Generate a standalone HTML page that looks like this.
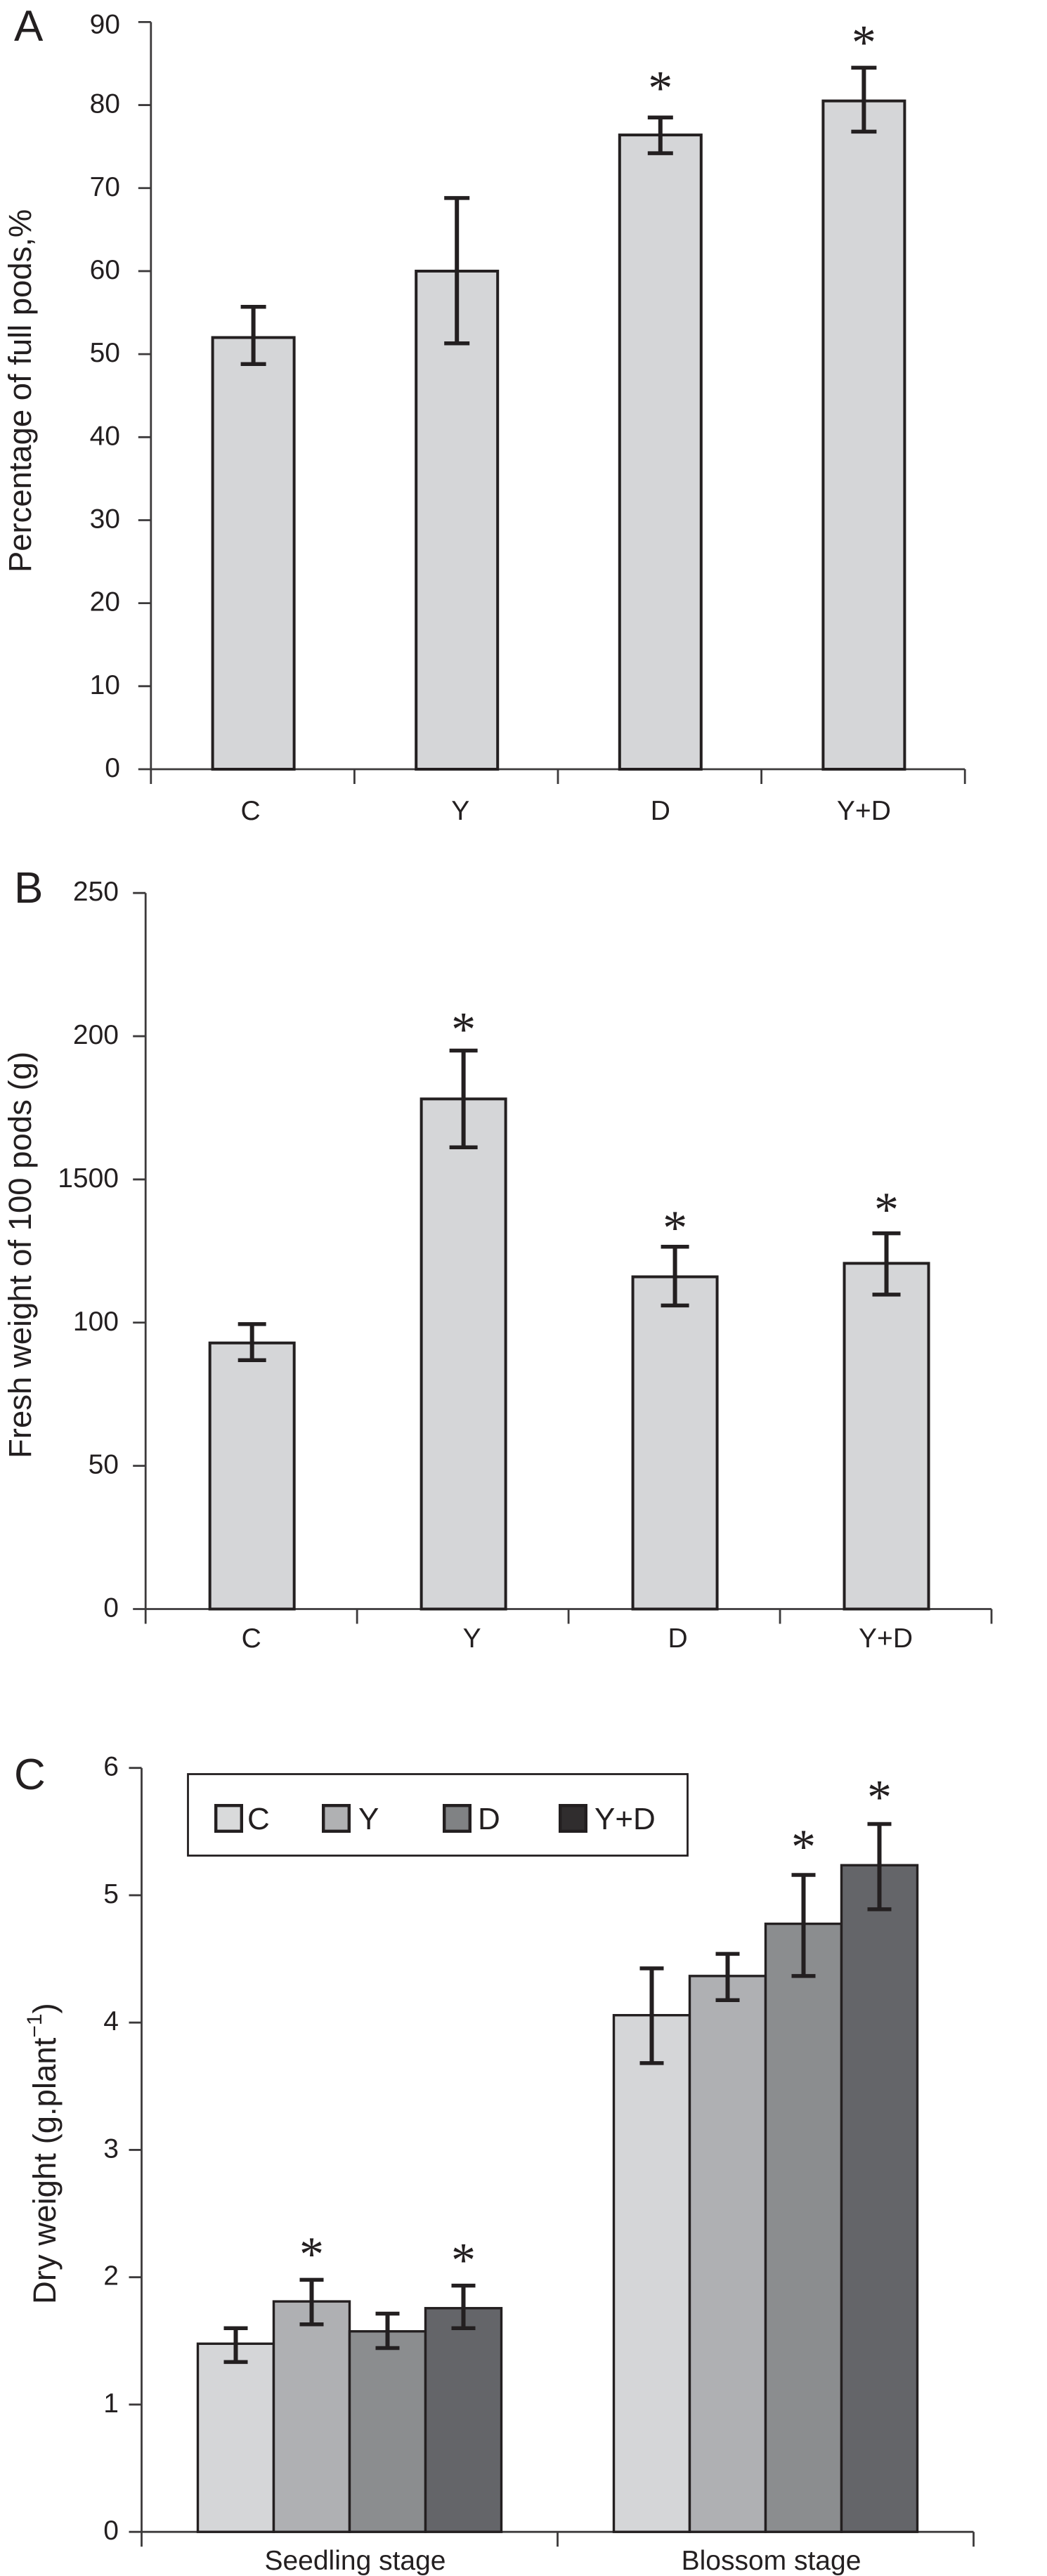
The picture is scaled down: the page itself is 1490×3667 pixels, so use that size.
<!DOCTYPE html>
<html lang="en">
<head>
<meta charset="utf-8">
<title>Pod and dry weight bar charts</title>
<style>
html,body{margin:0;padding:0;background:#fff;}
svg{display:block;}
text{font-family:"Liberation Sans",sans-serif;fill:#231f20;}
.star{font-family:"Liberation Serif",serif;}
</style>
</head>
<body>
<svg id="fig" xmlns="http://www.w3.org/2000/svg" width="1490" height="3667" viewBox="0 0 1490 3667">
  <rect x="0" y="0" width="1490" height="3667" fill="#ffffff"/>

  <text x="20" y="58" font-size="62">A</text>
  <text x="20" y="1285" font-size="62">B</text>
  <text x="20" y="2547" font-size="62">C</text>

  <text transform="translate(44,815) rotate(-90)" font-size="45.4">Percentage of full pods,%</text>
  <text transform="translate(44,2076) rotate(-90)" font-size="45.5">Fresh weight of 100 pods (g)</text>
  <text transform="translate(79,3280) rotate(-90)" font-size="45.5">Dry weight (g.plant<tspan font-size="30" dy="-20">−1</tspan><tspan dy="20">)</tspan></text>

  <g id="panel-a"></g>
  <g id="panel-b"></g>
  <g id="panel-c"></g>

  <g>
    <rect x="267.5" y="2525.5" width="711" height="116" fill="#ffffff" stroke="#231f20" stroke-width="2.8"/>
    <rect x="307.2" y="2570.2" width="36.6" height="36.6" fill="#d9dadb" stroke="#231f20" stroke-width="4.4"/>
    <text x="352" y="2604" font-size="44">C</text>
    <rect x="460.2" y="2570.2" width="36.6" height="36.6" fill="#b0b1b3" stroke="#231f20" stroke-width="4.4"/>
    <text x="510" y="2604" font-size="44">Y</text>
    <rect x="632.2" y="2570.2" width="36.6" height="36.6" fill="#808284" stroke="#231f20" stroke-width="4.4"/>
    <text x="680" y="2604" font-size="44">D</text>
    <rect x="797.2" y="2570.2" width="36.6" height="36.6" fill="#302d2e" stroke="#231f20" stroke-width="4.4"/>
    <text x="846" y="2604" font-size="44">Y+D</text>
  </g>
</svg>

<script>
// Panel A: percentage of full pods
const categoriesA = ['C', 'Y', 'D', 'Y+D'];
const valuesA = [52, 60, 76.4, 80.5];
const errHighA = [55.7, 68.8, 78.5, 84.5];
const errLowA = [48.8, 51.3, 74.2, 76.8];
const starGapA = [null, null, 4.3, 3.8];
const ticksA = [0, 10, 20, 30, 40, 50, 60, 70, 80, 90];
const tickLabelsA = ['0', '10', '20', '30', '40', '50', '60', '70', '80', '90'];

// Panel B: fresh weight of 100 pods (the "1500" label is printed that way in the figure)
const categoriesB = ['C', 'Y', 'D', 'Y+D'];
const valuesB = [92.9, 178.1, 116, 120.7];
const errHighB = [99.5, 195, 126.5, 131.2];
const errLowB = [86.9, 161.2, 106, 109.8];
const starGapB = [null, 9.6, 8.8, 10.5];
const ticksB = [0, 50, 100, 150, 200, 250];
const tickLabelsB = ['0', '50', '100', '1500', '200', '250'];

// Panel C: dry weight by stage and treatment
const stagesC = ['Seedling stage', 'Blossom stage'];
const seriesC = ['C', 'Y', 'D', 'Y+D'];
const valuesSeedling = [1.478, 1.81, 1.575, 1.757];
const valuesBlossom = [4.058, 4.366, 4.776, 5.236];
const errHighSeedling = [1.6, 1.98, 1.714, 1.934];
const errLowSeedling = [1.334, 1.63, 1.444, 1.6];
const errHighBlossom = [4.426, 4.54, 5.16, 5.56];
const errLowBlossom = [3.682, 4.176, 4.366, 4.89];
const starGapSeedling = [null, 0.25, null, 0.25];
const starGapBlossom = [null, null, 0.27, 0.26];
const ticksC = [0, 1, 2, 3, 4, 5, 6];
const tickLabelsC = ['0', '1', '2', '3', '4', '5', '6'];
const fillsC = ['#d5d6d8', '#afb0b3', '#8b8d8f', '#646569'];

const NS = 'http://www.w3.org/2000/svg';
const INK = '#231f20';
const AXIS = '#3c3a3b';

function make(parent, tag, attrs) {
  const el = document.createElementNS(NS, tag);
  for (const k in attrs) el.setAttribute(k, attrs[k]);
  parent.appendChild(el);
  return el;
}

function linear(d0, d1, r0, r1) {
  return function (v) { return r0 + (v - d0) * (r1 - r0) / (d1 - d0); };
}

function drawAxes(g, o) {
  const y = linear(o.dMin, o.dMax, o.y0, o.y1);
  const yAxis = make(g, 'line', {x1: o.x0, x2: o.x0, y1: o.y1, y2: o.y0 + 21, stroke: AXIS, 'stroke-width': 2.8});
  
  
  const xAxis = make(g, 'line', {x1: o.x0 - 18, x2: o.x1, y1: o.y0, y2: o.y0, stroke: AXIS, 'stroke-width': 2.8});
  
  

  o.ticks.forEach(function (t, i) {
    if (t !== o.dMin) {
      const tick = make(g, 'line', {x1: o.x0 - 18, x2: o.x0, y1: y(t), y2: y(t), stroke: AXIS, 'stroke-width': 2.8});
      
      
    }
    const shift = i === o.ticks.length - 1 ? o.topLabelShift : 0;
    const label = make(g, 'text', {x: o.labelRight, y: y(t) + 11 + shift, 'text-anchor': 'end', 'font-size': 39});
    
    
    label.textContent = o.tickLabels[i];
  });

  const bands = o.categories.length;
  const bandW = (o.x1 - o.x0) / bands;
  for (let i = 1; i <= bands; i++) {
    const tx = o.x0 + i * bandW;
    const tick = make(g, 'line', {x1: tx, x2: tx, y1: o.y0, y2: o.y0 + 21, stroke: AXIS, 'stroke-width': 2.8});
    
    
  }
  o.categories.forEach(function (c, i) {
    const label = make(g, 'text', {x: o.x0 + (i + 0.5) * bandW + o.labelNudge(i), y: o.labelY, 'text-anchor': 'middle', 'font-size': 39});
    
    
    label.textContent = c;
  });
  return y;
}

function drawBar(g, y, o, cx, w, value, fill) {
  const top = y(value);
  const bar = make(g, 'rect', {x: cx - w / 2, y: top, width: w, height: o.y0 - top, fill: fill, stroke: INK, 'stroke-width': o.barStroke});
  
  
}

function drawError(g, y, o, cx, hi, lo, gap) {
  const stem = make(g, 'line', {x1: cx, x2: cx, y1: y(hi), y2: y(lo), stroke: INK, 'stroke-width': 6});
  
  
  const capHi = make(g, 'line', {x1: cx - o.cap, x2: cx + o.cap, y1: y(hi), y2: y(hi), stroke: INK, 'stroke-width': 5.5});
  
  
  const capLo = make(g, 'line', {x1: cx - o.cap, x2: cx + o.cap, y1: y(lo), y2: y(lo), stroke: INK, 'stroke-width': 5.5});
  
  
  if (gap !== null) {
    const star = make(g, 'text', {x: cx, y: y(hi + gap) + 32, 'text-anchor': 'middle', 'font-size': 70, 'class': 'star'});
    
    
    star.textContent = '*';
  }
}

function simplePanel(id, o, values, high, low, gaps) {
  const g = document.getElementById(id);
  const y = drawAxes(g, o);
  const bandW = (o.x1 - o.x0) / o.categories.length;
  values.forEach(function (v, i) {
    drawBar(g, y, o, o.x0 + (i + 0.5) * bandW + 1, o.barW, v, '#d5d6d8');
  });
  values.forEach(function (v, i) {
    drawError(g, y, o, o.x0 + (i + 0.5) * bandW + 1, high[i], low[i], gaps[i]);
  });
}

simplePanel('panel-a', {
  categories: categoriesA, ticks: ticksA, tickLabels: tickLabelsA,
  dMin: 0, dMax: 90, x0: 214.8, x1: 1373.2, y0: 1095, y1: 31.4, topLabelShift: 5,
  labelRight: 171, labelY: 1167, labelNudge: function (i) { return i === 1 ? 6 : (i === 0 ? -3 : 1); },
  barW: 116, barStroke: 4, cap: 18
}, valuesA, errHighA, errLowA, starGapA);

simplePanel('panel-b', {
  categories: categoriesB, ticks: ticksB, tickLabels: tickLabelsB,
  dMin: 0, dMax: 250, x0: 207.2, x1: 1411, y0: 2290.5, y1: 1271.2, topLabelShift: 0,
  labelRight: 169, labelY: 2345, labelNudge: function (i) { return i === 1 ? 13 : (i === 2 ? 5 : 0); },
  barW: 120, barStroke: 4, cap: 20
}, valuesB, errHighB, errLowB, starGapB);

(function () {
  const o = {
    categories: stagesC, ticks: ticksC, tickLabels: tickLabelsC,
    dMin: 0, dMax: 6, x0: 201.5, x1: 1385.5, y0: 3604.2, y1: 2516.7, topLabelShift: 0,
    labelRight: 169, labelY: 3658, labelNudge: function () { return 8; },
    barStroke: 3.4, cap: 17
  };
  const g = document.getElementById('panel-c');
  const y = drawAxes(g, o);
  const bandW = (o.x1 - o.x0) / stagesC.length;
  const barW = 108;
  const groups = [
    {values: valuesSeedling, hi: errHighSeedling, lo: errLowSeedling, gaps: starGapSeedling},
    {values: valuesBlossom, hi: errHighBlossom, lo: errLowBlossom, gaps: starGapBlossom}
  ];
  groups.forEach(function (grp, s) {
    const center = o.x0 + (s + 0.5) * bandW;
    grp.values.forEach(function (v, i) {
      drawBar(g, y, o, center + (i - (seriesC.length - 1) / 2) * barW, barW, v, fillsC[i]);
    });
    grp.values.forEach(function (v, i) {
      drawError(g, y, o, center + (i - (seriesC.length - 1) / 2) * barW, grp.hi[i], grp.lo[i], grp.gaps[i]);
    });
  });
})();
</script>
</body>
</html>
